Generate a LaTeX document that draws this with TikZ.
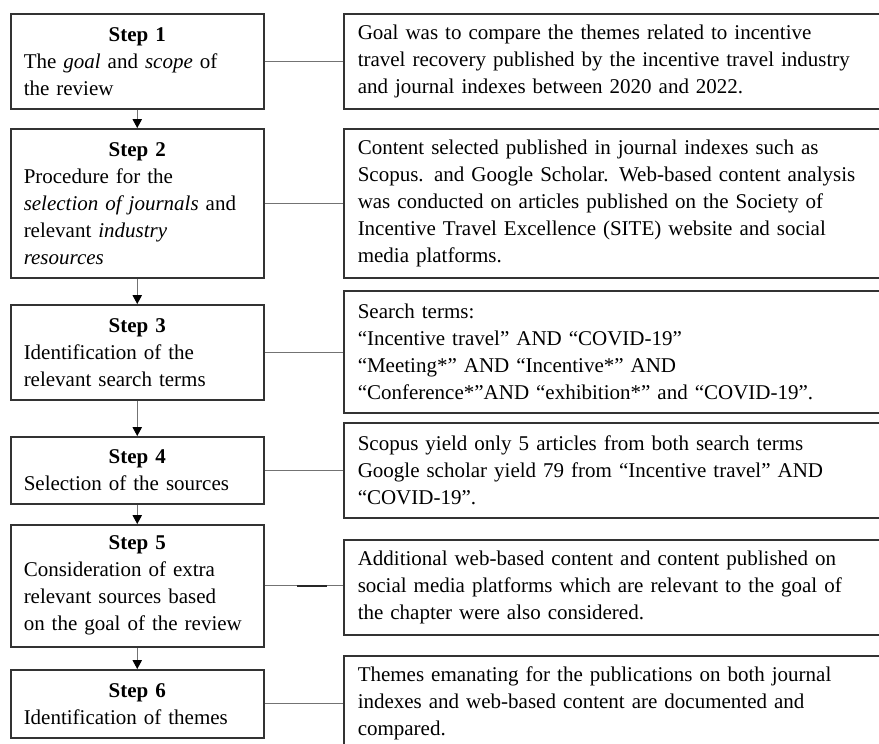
\documentclass[tikz,border=0pt]{standalone}
\usepackage{fontspec}
\setmainfont{Liberation Serif}
\usetikzlibrary{arrows.meta,calc}
\begin{document}
\begin{tikzpicture}[x=1pt,y=-1pt,
  txt/.style={font=\fontsize{21}{27}\selectfont},
  stepbox/.style={txt, draw=black!80, line width=1.5pt, anchor=north west, minimum width=253pt, text width=227pt, inner xsep=13pt, inner ysep=0pt, align=left},
  infobox/.style={txt, draw=black!80, line width=1.5pt, anchor=north west, minimum width=547pt, text width=519pt, inner xsep=14pt, inner ysep=0pt, align=left},
  link/.style={draw=black!55, line width=1pt},
  flow/.style={draw=black!55, line width=1pt, -{Triangle[width=9.5pt,length=9pt,color=black]}}
]
\useasboundingbox[fill=white] (0,0) rectangle (879,744);

\node[stepbox, minimum height=95pt] (s1) at (10,13) {\makebox[\linewidth]{\bfseries Step 1}\\The \textit{goal} and \textit{scope} of\\the review};
\node[stepbox, minimum height=149pt] (s2) at (10,128) {\makebox[\linewidth]{\bfseries Step 2}\\Procedure for the\\\textit{selection of journals} and\\relevant \textit{industry}\\\textit{resources}};
\node[stepbox, minimum height=95pt] (s3) at (10,304) {\makebox[\linewidth]{\bfseries Step 3}\\Identification of the\\relevant search terms};
\node[stepbox, minimum height=67pt] (s4) at (10,436) {\makebox[\linewidth]{\bfseries Step 4}\\Selection of the sources};
\node[stepbox, minimum height=122pt] (s5) at (10,524) {\makebox[\linewidth]{\bfseries Step 5}\\Consideration of extra\\relevant sources based\\on the goal of the review};
\node[stepbox, minimum height=68pt] (s6) at (10,669) {\makebox[\linewidth]{\bfseries Step 6}\\Identification of themes};

\node[infobox, minimum height=95pt] (r1) at (343,13) {Goal was to compare the themes related to incentive\\travel recovery published by the incentive travel industry\\and journal indexes between 2020 and 2022.};
\node[infobox, minimum height=149pt] (r2) at (343,128) {Content selected published in journal indexes such as\\Scopus. and Google Scholar. Web-based content analysis\\was conducted on articles published on the Society of\\Incentive Travel Excellence (SITE) website and social\\media platforms.};
\node[infobox, minimum height=122pt] (r3) at (343,290) {Search terms:\\``Incentive travel'' AND ``COVID-19''\\``Meeting*'' AND ``Incentive*'' AND\\``Conference*''AND ``exhibition*'' and ``COVID-19''.};
\node[infobox, minimum height=95pt] (r4) at (343,422) {Scopus yield only 5 articles from both search terms\\Google scholar yield 79 from ``Incentive travel'' AND\\``COVID-19''.};
\node[infobox, minimum height=95pt] (r5) at (343,539) {Additional web-based content and content published on\\social media platforms which are relevant to the goal of\\the chapter were also considered.};
\node[infobox, minimum height=95pt] (r6) at (343,655) {Themes emanating for the publications on both journal\\indexes and web-based content are documented and\\compared.};

\foreach \i in {1,...,6} {
  \coordinate (e\i) at (s\i.east -| r\i.west);
  \draw[link] (s\i.east) -- (e\i);
}
\draw[line width=1.5pt, black!85] ($(s5.east)!0.41!(e5)$) -- ($(s5.east)!0.80!(e5)$);

\draw[flow] (s1.south) -- (s2.north);
\draw[flow] (s2.south) -- (s3.north);
\draw[flow] (s3.south) -- (s4.north);
\draw[flow] (s4.south) -- (s5.north);
\draw[flow] (s5.south) -- (s6.north);
\end{tikzpicture}
\end{document}
